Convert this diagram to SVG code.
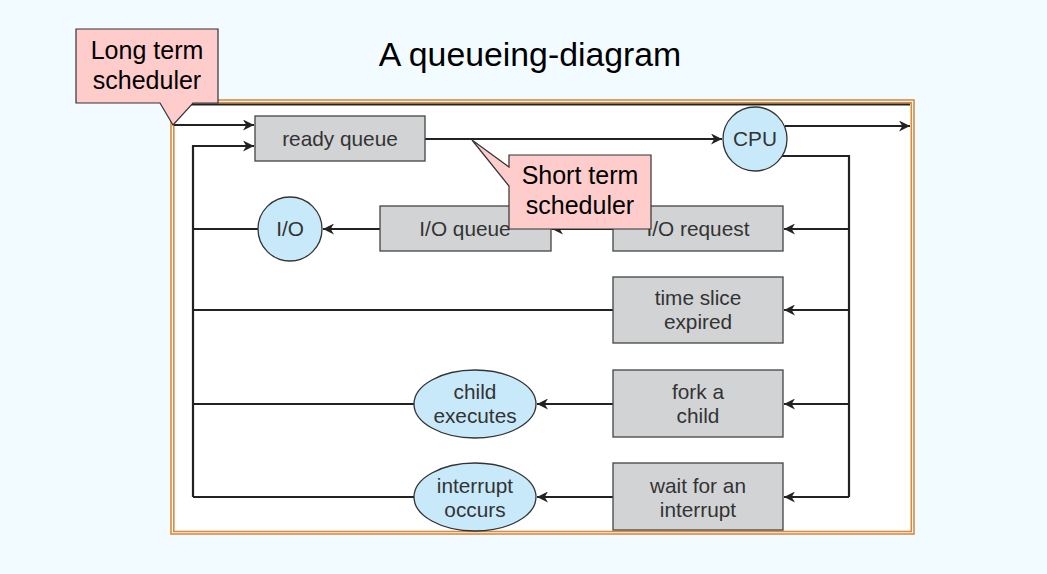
<svg xmlns="http://www.w3.org/2000/svg" width="1047" height="574" viewBox="0 0 1047 574">
<style>
.box{fill:#d2d3d5;stroke:#444;stroke-width:1.3}
.oval{fill:#c8e9fa;stroke:#333;stroke-width:1.3}
.lbl{font-family:"Liberation Sans",Arial,sans-serif;font-size:20.8px;fill:#333;text-anchor:middle}
.call{fill:#ffcccc;stroke:#333;stroke-width:1.2}
.ctext{font-family:"Liberation Sans",Arial,sans-serif;font-size:25px;fill:#000;text-anchor:middle}
.ln{fill:none;stroke:#222;stroke-width:2.2}
</style>
<defs>
<marker id="ah" viewBox="0 0 10 10" refX="10" refY="5" markerWidth="5" markerHeight="5" orient="auto" markerUnits="strokeWidth">
<path d="M0,0 L10,5 L0,10 L3,5 z" fill="#222"/>
</marker>
</defs>
<rect x="0" y="0" width="1047" height="574" fill="#f2fbff"/>
<text x="530" y="66" font-family="Liberation Sans,Arial,sans-serif" font-size="33.8" text-anchor="middle" fill="#000">A queueing-diagram</text>
<g id="frame">
<rect x="171" y="100" width="743" height="434" fill="#fff" stroke="#d98a3c" stroke-width="1.6"/>
<rect x="173.8" y="102.7" width="737.5" height="428.8" fill="none" stroke="#d98a3c" stroke-width="1.6"/>
</g>
<g id="connectors">
<line class="ln" x1="175" y1="104.5" x2="910" y2="104.5" stroke-width="1.6"/>
<line class="ln" x1="174" y1="125" x2="254" y2="125" marker-end="url(#ah)"/>
<polyline class="ln" points="193,497 193,146 254,146" marker-end="url(#ah)"/>
<line class="ln" x1="425" y1="139" x2="722" y2="139" marker-end="url(#ah)"/>
<line class="ln" x1="785" y1="126" x2="910" y2="126" marker-end="url(#ah)"/>
<polyline class="ln" points="780,156 849,156 849,497"/>
<line class="ln" x1="849" y1="229" x2="784" y2="229" marker-end="url(#ah)"/>
<line class="ln" x1="849" y1="310" x2="784" y2="310" marker-end="url(#ah)"/>
<line class="ln" x1="849" y1="404" x2="784" y2="404" marker-end="url(#ah)"/>
<line class="ln" x1="849" y1="497" x2="784" y2="497" marker-end="url(#ah)"/>
<line class="ln" x1="613" y1="229" x2="552" y2="229" marker-end="url(#ah)"/>
<line class="ln" x1="380" y1="229" x2="323" y2="229" marker-end="url(#ah)"/>
<line class="ln" x1="258" y1="229" x2="193" y2="229"/>
<line class="ln" x1="613" y1="310" x2="193" y2="310"/>
<line class="ln" x1="613" y1="404" x2="537" y2="404" marker-end="url(#ah)"/>
<line class="ln" x1="414" y1="404" x2="193" y2="404"/>
<line class="ln" x1="613" y1="497" x2="537" y2="497" marker-end="url(#ah)"/>
<line class="ln" x1="414" y1="497" x2="193" y2="497"/>
</g>
<g id="ready-queue"><rect class="box" x="255" y="116" width="170" height="45"/><text class="lbl" x="340" y="146">ready queue</text></g>
<g id="cpu"><circle class="oval" cx="755" cy="139" r="32"/><text class="lbl" x="755" y="146">CPU</text></g>
<g id="io-request"><rect class="box" x="613" y="206" width="170" height="45"/><text class="lbl" x="698" y="236">I/O request</text></g>
<g id="io-queue"><rect class="box" x="380" y="206" width="171" height="45"/><text class="lbl" x="465" y="236">I/O queue</text></g>
<g id="io"><circle class="oval" cx="290" cy="229" r="32"/><text class="lbl" x="290" y="236">I/O</text></g>
<g id="time-slice"><rect class="box" x="613" y="277" width="170" height="66"/><text class="lbl" x="698" y="305">time slice</text><text class="lbl" x="698" y="329">expired</text></g>
<g id="fork"><rect class="box" x="613" y="370" width="170" height="67"/><text class="lbl" x="698" y="399">fork a</text><text class="lbl" x="698" y="423">child</text></g>
<g id="child-executes"><ellipse class="oval" cx="475" cy="404" rx="61" ry="34"/><text class="lbl" x="475" y="399">child</text><text class="lbl" x="475" y="423">executes</text></g>
<g id="wait"><rect class="box" x="613" y="463" width="170" height="67"/><text class="lbl" x="698" y="493">wait for an</text><text class="lbl" x="698" y="517">interrupt</text></g>
<g id="interrupt-occurs"><ellipse class="oval" cx="475" cy="497" rx="61" ry="34"/><text class="lbl" x="475" y="493">interrupt</text><text class="lbl" x="475" y="517">occurs</text></g>
<g id="long-term-scheduler">
<polygon class="call" points="76,29 218,29 218,103 193,103 173,125 160,103 76,103"/>
<text class="ctext" x="147" y="59">Long term</text>
<text class="ctext" x="147" y="89">scheduler</text>
</g>
<g id="short-term-scheduler">
<polygon class="call" points="509,155 651,155 651,229 509,229 509,186 472,140 509,167"/>
<text class="ctext" x="580" y="184">Short term</text>
<text class="ctext" x="580" y="214">scheduler</text>
</g>
</svg>
